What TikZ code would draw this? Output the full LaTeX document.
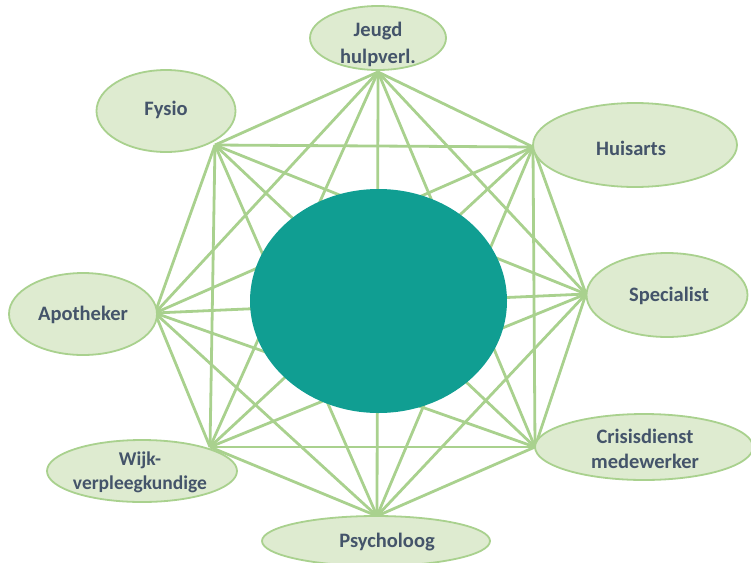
\documentclass[tikz,border=0pt]{standalone}
\usepackage{fontspec}
\setmainfont{Carlito}
\usetikzlibrary{shapes.geometric}
\definecolor{edgegreen}{HTML}{A9D18E}
\definecolor{fillgreen}{HTML}{DEEBD0}
\definecolor{txtcol}{HTML}{44546A}
\definecolor{teal}{HTML}{109E92}
\tikzset{
  person/.style={ellipse, draw=edgegreen, line width=1.8pt, fill=fillgreen, inner sep=0pt},
  lbl/.style={inner sep=0pt, font=\bfseries\fontsize{20.5}{25}\selectfont, text=txtcol, align=center},
  link/.style={draw=edgegreen, line width=2.8pt},
  hub/.style={ellipse, fill=teal, inner sep=0pt}
}
\begin{document}
\begin{tikzpicture}[x=1pt,y=-1pt]
\useasboundingbox (0,0) rectangle (751,562);
% connection points
\coordinate (pJ) at (378,72);
\coordinate (pF) at (215,145);
\coordinate (pH) at (533,147);
\coordinate (pA) at (155,313);
\coordinate (pS) at (586,294);
\coordinate (pW) at (210,447);
\coordinate (pC) at (535,447);
\coordinate (pP) at (377,516);
% connectors (complete graph)
\foreach \a/\b in {pJ/pF,pJ/pH,pJ/pA,pJ/pS,pJ/pW,pJ/pC,pJ/pP,
                   pF/pH,pF/pA,pF/pS,pF/pW,pF/pC,pF/pP,
                   pH/pA,pH/pS,pH/pW,pH/pC,pH/pP,
                   pA/pS,pA/pW,pA/pC,pA/pP,
                   pS/pW,pS/pC,pS/pP,
                   pW/pC,pW/pP,
                   pC/pP}
  \draw[link] (\a) -- (\b);
% centre
\node[hub, minimum width=257pt, minimum height=224pt] (hub) at (378.5,301) {};
% outer ellipses
\node[person, minimum width=136pt, minimum height=64pt] (jeugd) at (378,38) {};
\node[person, minimum width=139pt, minimum height=82pt] (fysio) at (166,111) {};
\node[person, minimum width=204pt, minimum height=84pt] (huisarts) at (635,145) {};
\node[person, minimum width=148pt, minimum height=82pt] (apotheker) at (83,314) {};
\node[person, minimum width=161pt, minimum height=84pt] (specialist) at (667,295) {};
\node[person, minimum width=190pt, minimum height=62pt] (wijk) at (142,471) {};
\node[person, minimum width=218pt, minimum height=66pt] (crisis) at (644,447) {};
\node[person, minimum width=228pt, minimum height=50pt] (psycholoog) at (376,541) {};
% labels
\node[lbl, font=\bfseries\fontsize{20.5}{27}\selectfont] (tjeugd) at (378,44) {Jeugd\\hulpverl.};
\node[lbl] (tfysio) at (166,110) {Fysio};
\node[lbl] (thuisarts) at (631,148) {Huisarts};
\node[lbl] (tapotheker) at (83,315) {Apotheker};
\node[lbl] (tspecialist) at (669,296) {Specialist};
\node[lbl, font=\bfseries\fontsize{19.5}{24}\selectfont] (twijk) at (140,472) {Wijk-\\verpleegkundige};
\node[lbl] (tcrisis) at (645,449) {Crisisdienst\\medewerker};
\node[lbl] (tpsycholoog) at (387,542) {Psycholoog};
\end{tikzpicture}
\end{document}
